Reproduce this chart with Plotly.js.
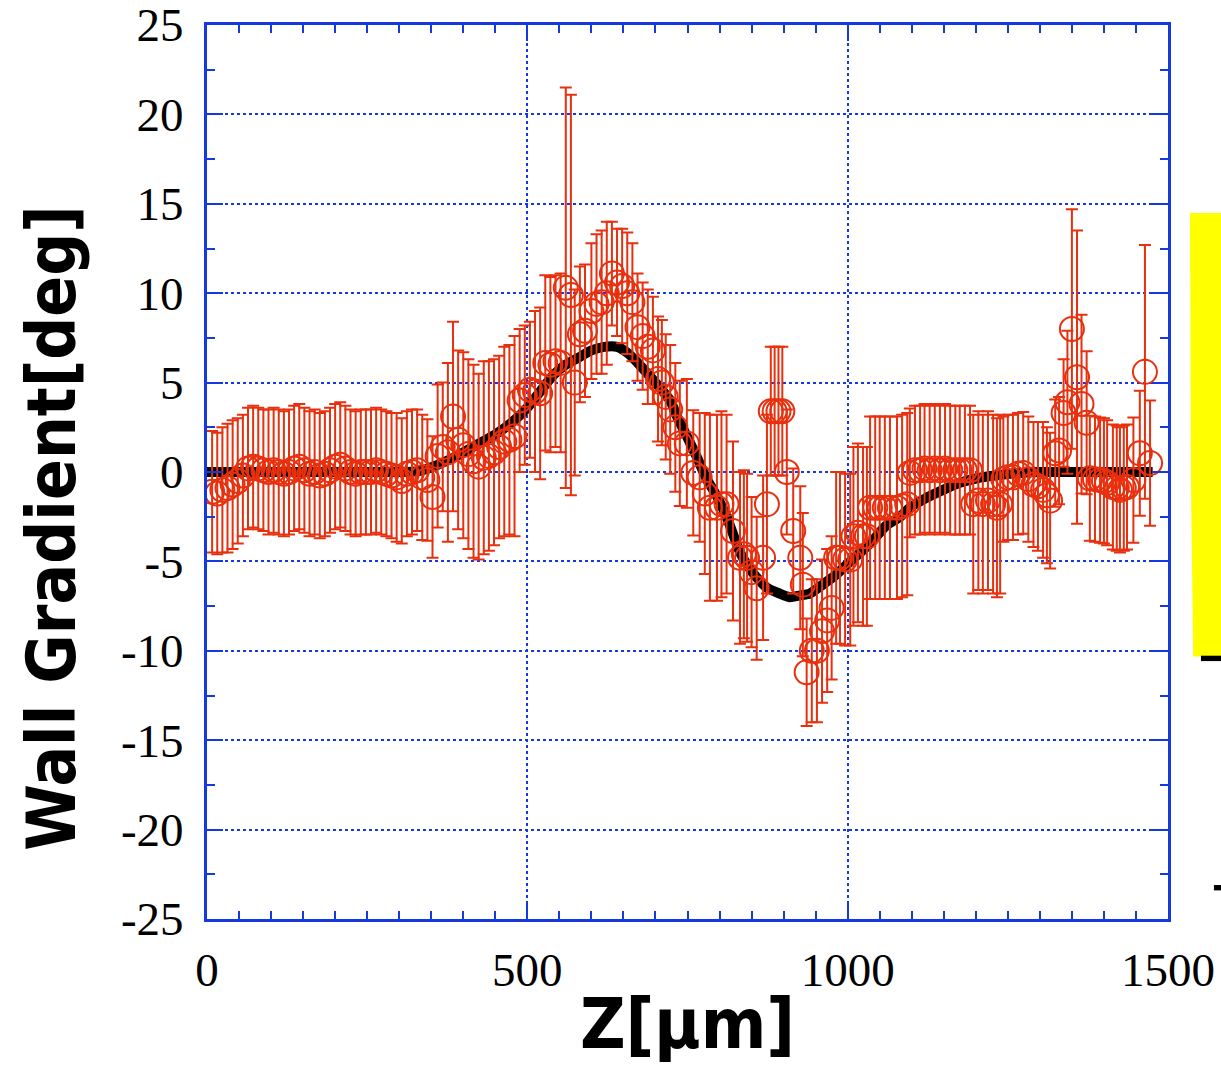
<!DOCTYPE html>
<html>
<head>
<meta charset="utf-8">
<script src="https://cdn.plot.ly/plotly-3.0.1.min.js"></script>
<style>html,body{margin:0;padding:0;background:#fff;}#chart{width:1221px;height:1065px;}</style>
</head>
<body>
<div id="chart"></div>
<script>
// ---- data ----
const zX = [8,16,24,32,40,48,56,64,72,80,88,96,104,112,120,128,136,144,152,160,168,176,184,192,200,208,216,224,232,240,248,256,264,272,280,288,296,304,312,320,328,
336,344,352,360,368,376,384,392,400,408,416,424,432,440,448,456,464,472,480,488,496,504,512,520,528,536,544,552,560,568,574,582,590,600,608,616,624,632,640,648,656,664,672,680,688,696,704,710,716,723,731,738,749,759,769,777,785,796,803,811,821,832,838,843,850,858,868,874,880,886,892,898,905,915,926,930,936,944,952,960,968,975,982,988,996,1004,1009,1016,1024,1030,1035,1043,1050,1058,1066,1077,1085,1093,1097,1105,1113,1120,1128,1136,1144,1152,1160,1168,1175,1183,1191,1196,1204,1211,1219,1227,1233,1238,1243,1250,1258,1266,1274,1282,1290,1297,1305,1311,1316,1324,1330,1337,1343,1350,1358,1365,1373,1378,1386,1394,1400,1405,1414,1420,1425,1431,1436,1446,1456,1464,1472];
const wallGrad = [-1.1,-1.2,-1.0,-0.9,-0.7,-0.5,-0.2,0.2,0.3,0.2,0.1,0.0,0.1,0.0,-0.1,0.0,0.2,0.3,0.1,-0.1,0.0,-0.2,-0.1,0.1,0.3,0.4,0.2,0.0,-0.1,0.0,0.0,0.0,0.1,0.0,-0.1,-0.2,-0.3,-0.5,-0.1,0.0,0.1,
-0.3,-0.45,-1.4,0.9,1.4,1.1,3.1,1.8,1.5,1.0,0.6,0.3,0.8,0.9,1.1,1.4,1.7,1.8,2.0,4.0,4.3,4.6,4.5,4.4,6.1,6.0,6.2,6.1,10.3,9.9,5.0,7.7,7.9,9.0,9.4,9.5,10.0,11.1,10.6,10.4,10.0,9.5,8.1,7.6,7.0,6.8,5.2,5.0,4.2,3.5,2.5,1.6,1.6,-0.05,-0.3,-1.2,-2.0,-2.0,-1.8,-1.8,-3.3,-4.8,-4.6,-4.8,-5.6,-6.5,-4.8,-1.8,3.4,3.4,3.4,3.4,0.0,-3.3,-4.8,-6.3,-11.2,-10.0,-10.0,-8.9,-8.3,-7.6,-4.8,-4.8,-4.9,-4.9,-3.6,-3.4,-3.6,-3.6,-2.0,-2.0,-2.0,-2.0,-2.0,-2.0,-1.9,-1.8,-0.05,0.1,0.1,0.2,0.1,0.2,0.1,0.2,0.1,0.1,0.1,0.1,0.1,-1.8,-1.6,-1.8,-1.6,-1.8,-2.0,-1.8,-0.4,-0.3,-0.3,-0.1,-0.05,-0.4,-0.7,-0.8,-1.0,-1.3,-1.6,1.05,1.2,3.3,3.9,8.0,5.3,3.8,2.75,-0.35,-0.4,-0.45,-0.5,-0.6,-0.84,-0.9,-1.0,-0.9,-0.84,-0.45,1.05,5.6,0.5];
const gradErr = [3.4,3.4,3.5,3.6,3.6,3.5,3.4,3.4,3.4,3.4,3.4,3.5,3.5,3.5,3.5,3.5,3.5,3.5,3.5,3.5,3.5,3.5,3.5,3.5,3.5,3.5,3.5,3.5,3.5,3.5,3.5,3.5,3.5,3.5,3.5,3.5,3.6,3.5,3.5,3.5,3.4,
3.5,3.4,3.4,4.0,3.6,5.0,5.3,5.0,5.2,5.3,5.4,5.2,5.4,5.3,5.2,5.1,5.3,5.3,5.6,4.0,3.9,3.8,4.5,4.8,4.9,4.9,4.8,5.0,11.2,11.2,5.2,3.8,3.7,3.8,3.9,4.0,4.0,2.9,3.0,3.2,3.4,3.3,3.0,3.0,3.2,3.0,3.5,3.5,3.5,3.6,3.6,3.5,3.6,3.5,3.6,4.5,5.2,5.2,5.2,5.0,5.0,4.8,4.7,4.7,4.2,4.0,4.6,5.0,3.6,3.6,3.6,3.6,3.5,3.5,4.0,4.0,3.0,4.0,4.0,4.0,4.0,4.0,4.8,4.8,4.8,4.8,5.0,5.0,5.0,5.0,5.1,5.1,5.1,5.1,5.1,5.1,5.1,5.1,3.6,3.6,3.6,3.6,3.6,3.6,3.6,3.6,3.6,3.6,3.6,3.6,3.6,5.0,5.0,5.0,5.0,5.0,5.0,5.0,3.5,3.5,3.5,3.4,3.4,3.5,3.5,3.6,3.8,3.8,3.8,3.0,3.0,3.0,4.0,6.7,8.2,5.0,4.0,3.5,3.5,3.5,3.5,3.5,3.5,3.5,3.5,3.5,3.5,3.5,3.5,7.1,3.5];

const fitX = [0,100,200,300,330,360,390,420,450,480,500,520,540,560,580,600,620,640,655,670,685,700,712,723,735,749,765,780,795,811,832,845,858,875,894,910,926,941,961,980,998,1020,1040,1060,1082,1097,1120,1149,1175,1202,1230,1269,1300,1400,1476];
const fitY = [0,0,0,0,0.05,0.4,0.9,1.5,2.1,2.9,3.6,4.5,5.4,6.0,6.4,6.8,7.0,7.0,6.7,6.2,5.6,5.0,4.5,4.0,3.0,2.0,0.8,-0.4,-1.3,-2.5,-4.5,-5.3,-5.9,-6.5,-6.8,-7.0,-6.9,-6.8,-6.3,-5.8,-5.2,-4.5,-3.8,-3.0,-2.5,-2.0,-1.5,-1.0,-0.6,-0.35,-0.2,-0.05,0,0,0];

const xTickVals = [0,500,1000,1500];
const xTickText = ['0','500','1000','1500'];
const yTickVals = [-25,-20,-15,-10,-5,0,5,10,15,20,25];
const yTickText = ['-25','-20','-15','-10','-5','0','5','10','15','20','25'];

// ---- styling ----
const BLUE = '#1638e0';
const RED = '#e8300e';
const TICKFONT = {family: 'Liberation Serif, Times New Roman, serif', size: 47, color: '#000'};
const TITLEFONT_Y = {family: 'DejaVu Sans Condensed, DejaVu Sans, sans-serif', size: 67, color: '#000', weight: 'bold', stretch: 'condensed'};
const TITLEFONT_X = {family: 'DejaVu Sans Condensed, DejaVu Sans, sans-serif', size: 70, color: '#000', weight: 'bold', stretch: 'condensed'};

const axisCommon = {
  showline: true, linecolor: BLUE, linewidth: 3, mirror: 'allticks',
  ticks: 'inside', ticklen: 16, tickwidth: 2, tickcolor: BLUE,
  showgrid: true, gridcolor: BLUE, gridwidth: 2, griddash: 'dot',
  zeroline: false, tickfont: TICKFONT, tickmode: 'array', ticklabeloverflow: 'allow',
  minor: {ticks: 'inside', ticklen: 8, tickwidth: 2, tickcolor: BLUE, showgrid: false}
};

const traces = [
  {x: fitX, y: fitY, type: 'scatter', mode: 'lines', line: {color: '#000', width: 10, shape: 'spline', smoothing: 0.6}, hoverinfo: 'skip', showlegend: false},
  {x: zX, y: wallGrad, type: 'scatter', mode: 'markers',
   marker: {symbol: 'circle-open', size: 24, color: RED, line: {color: RED, width: 2}},
   error_y: {type: 'data', array: gradErr, visible: true, color: RED, thickness: 2, width: 6},
   showlegend: false}
];

const layout = {
  width: 1221, height: 1065,
  margin: {l: 207, r: 53, t: 25, b: 146},
  paper_bgcolor: '#fff', plot_bgcolor: '#fff',
  showlegend: false,
  xaxis: Object.assign({}, axisCommon, {
    range: [0, 1500], tickvals: xTickVals, ticktext: xTickText,
    ticklabelstandoff: 8,
    minor: Object.assign({}, axisCommon.minor, {dtick: 50, tick0: 0}),
    title: {text: 'Z[μm]', font: TITLEFONT_X, standoff: 6}
  }),
  yaxis: Object.assign({}, axisCommon, {
    range: [-25, 25], tickvals: yTickVals, ticktext: yTickText,
    ticklabelstandoff: 11,
    minor: Object.assign({}, axisCommon.minor, {dtick: 2.5, tick0: 0})
  }),
  annotations: [
    {text: 'Wall Gradient[deg]', xref: 'paper', yref: 'paper', x: -0.161, y: 0.438, xanchor: 'center', yanchor: 'middle',
     textangle: -90, showarrow: false, font: TITLEFONT_Y}
  ],
  shapes: [
    {type: 'path', xref: 'paper', yref: 'paper', path: 'M 1.0229 0.7897 L 1.06 0.7897 L 1.06 0.2935 L 1.0262 0.2935 L 1.0239 0.49 Z', fillcolor: '#ffff00', line: {width: 0}, layer: 'above'},
    {type: 'rect', xref: 'paper', yref: 'paper', x0: 1.0343, x1: 1.06, y0: 0.2885, y1: 0.2945, fillcolor: '#000', line: {width: 0}},
    {type: 'rect', xref: 'paper', yref: 'paper', x0: 1.0478, x1: 1.06, y0: 0.032, y1: 0.038, fillcolor: '#000', line: {width: 0}}
  ]
};

Plotly.newPlot('chart', traces, layout, {displayModeBar: false, staticPlot: true});
</script>
</body>
</html>
